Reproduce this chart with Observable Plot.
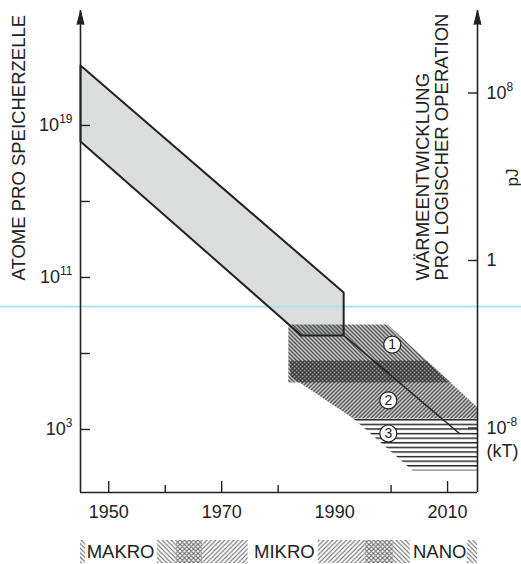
<!DOCTYPE html>
<html><head><meta charset="utf-8">
<script src="https://cdn.jsdelivr.net/npm/d3@7"></script>
<script src="https://cdn.jsdelivr.net/npm/@observablehq/plot@0.6"></script>
<style>
html,body{margin:0;padding:0;background:#fff;}
#chart svg{display:block;}
</style></head><body><div id="chart"></div>
<script>
// ---------- data ----------
const xTickYears = [1950, 1970, 1990, 2010];
const xMajorTicks = [1950, 1970, 2010];
const xMinorTicks = [1960, 1980, 2000];
const leftTickExps = [3, 7, 11, 15, 19];
const leftLabelExps = [3, 11, 19];
const rightTickExps = [8, 0, -8];
const rightTickLabels = ["10^8", "1", "10^-8"];
const kTLabel = "(kT)";
// grey band: year, log10(atoms per cell)
const bandYears = [1945, 1991.6, 1991.6, 1984.1, 1945, 1945];
const bandExps  = [22.16, 10.21, 7.95, 7.95, 18.16, 22.16];
// trend line continuing from the band
const trendYears = [1991.6, 2012.1];
const trendExps  = [7.95, 2.79];
// hatched regions
const region1Years = [1981.8, 1999.4, 2010.5, 1981.8];
const region1Exps  = [8.53, 8.53, 5.47, 5.47];
const region2Years = [1982.0, 2006.3, 2015.3, 2015.3, 1993.3, 1982.2];
const region2Exps  = [6.63, 6.63, 4.16, 3.58, 3.58, 5.79];
const region3Years = [1993.3, 2015.3, 2015.3, 2003.8];
const region3Exps  = [3.58, 3.58, 0.84, 0.84];
const regionLabels = ["1", "2", "3"];
const regionLabelYears = [2000.2, 1999.5, 1999.5];
const regionLabelExps  = [7.47, 4.53, 2.79];
// era strip
const eraNames = ["MAKRO", "MIKRO", "NANO"];
const eraCenters = [1952.1, 1981.1, 2008.6];
const eraLabelFrom = [1945.9, 1974.7, 2003.4];
const eraLabelTo   = [1958.6, 1987.1, 2013.5];
const eraHatchFrom = [1945, 1962.0, 1966.6, 1995.5, 2000.4];
const eraHatchTo   = [1962.0, 1966.6, 1995.5, 2000.4, 2015.3];
const eraHatchKind = ["back", "cross", "fwd", "cross", "back"];
// texts
const leftTitle = "ATOME PRO SPEICHERZELLE";
const rightTitle1 = "WÄRMEENTWICKLUNG";
const rightTitle2 = "PRO LOGISCHER OPERATION";
const rightUnit = "pJ";
// scan artefact line
const scanLineExp = 9.47;
const scanLineYears = [1930.8, 2023.1];

// ---------- scales ----------
const X_DOMAIN = [1945, 2015.3];
const Y_EXP_DOMAIN = [-0.316, 25.05];
const p = (e) => 10 ** e;
const rightToLeft = (e) => 11.893 + 1.1019 * e;
const poly = (years, exps) => years.map((yr, i) => ({year: yr, v: p(exps[i])}));

const font = "'Liberation Sans', Arial, Helvetica, sans-serif";
const ink = "#222";
const TICK_FS = 18;

const regionLabelData = regionLabels.map((t, i) => ({t, year: regionLabelYears[i], v: p(regionLabelExps[i])}));

const main = Plot.plot({
  width: 521, height: 540,
  marginTop: 10, marginBottom: 48, marginLeft: 80, marginRight: 44,
  style: {fontFamily: font, fontSize: TICK_FS + "px", color: ink, background: "#fff", overflow: "visible"},
  x: {domain: X_DOMAIN},
  y: {type: "log", domain: Y_EXP_DOMAIN.map(p)},
  marks: [
    Plot.line(poly(bandYears, bandExps), {x: "year", y: "v", fill: "#dadddc", stroke: "none"}),
    Plot.ruleY([p(scanLineExp)], {x1: scanLineYears[0], x2: scanLineYears[1], stroke: "#aee3ea", strokeWidth: 2}),
    Plot.line(poly(region1Years, region1Exps), {x: "year", y: "v", fill: "url(#hBack)", stroke: "none"}),
    Plot.line(poly(region2Years, region2Exps), {x: "year", y: "v", fill: "url(#hFwd)", stroke: "none"}),
    Plot.line(poly(region3Years, region3Exps), {x: "year", y: "v", fill: "url(#hHor)", stroke: "none"}),
    Plot.line(poly(bandYears, bandExps), {x: "year", y: "v", stroke: ink, strokeWidth: 2, strokeLinejoin: "miter"}),
    Plot.line(poly(trendYears, trendExps), {x: "year", y: "v", stroke: ink, strokeWidth: 1.5}),
    Plot.dot(regionLabelData, {x: "year", y: "v", r: 8.5, fill: "white", stroke: ink, strokeWidth: 1.2}),
    Plot.text(regionLabelData, {x: "year", y: "v", text: "t", fontSize: 14, fill: ink}),
    // axes lines
    Plot.ruleX(X_DOMAIN, {stroke: ink, strokeWidth: 1.6}),
    Plot.ruleY([p(Y_EXP_DOMAIN[0])], {stroke: ink, strokeWidth: 1.6}),
    Plot.vector(X_DOMAIN, {x: d => d, y: p(Y_EXP_DOMAIN[1]), anchor: "end", length: 14, shape: "spike", r: 3.5, fill: ink, stroke: ink, strokeWidth: 1}),
    // x axis
    Plot.axisX(xMajorTicks, {tickSize: -11, tickFormat: () => "", label: null, strokeWidth: 1.4}),
    Plot.axisX(xMinorTicks, {tickSize: -7, tickFormat: () => "", label: null, strokeWidth: 1.4}),
    Plot.axisX(xTickYears, {tickSize: 0, tickPadding: 13, tickFormat: "d", label: null, fontSize: TICK_FS}),
    // left y axis
    Plot.axisY(leftTickExps.map(p), {anchor: "left", tickSize: -10, tickPadding: 18, label: null, fontSize: TICK_FS, strokeWidth: 1.4,
      tickFormat: v => { const e = Math.round(Math.log10(v)); return leftLabelExps.includes(e) ? `10^${e}` : ""; }}),
    // right y axis
    Plot.axisY(rightTickExps.map(e => p(rightToLeft(e))), {anchor: "right", tickSize: -10, tickPadding: 19, label: null, fontSize: TICK_FS, strokeWidth: 1.4,
      tickFormat: v => { const e = Math.round((Math.log10(v) - 11.893) / 1.1019); return rightTickLabels[rightTickExps.indexOf(e)]; }}),
    Plot.text([kTLabel], {x: X_DOMAIN[1], y: p(rightToLeft(-8)), dx: 9, dy: 23, textAnchor: "start", fontSize: TICK_FS, fill: ink}),
    // titles
    Plot.text([leftTitle], {frameAnchor: "left", dx: -61, dy: 29, rotate: -90, textAnchor: "start", lineAnchor: "middle", fontSize: 18.5, fill: ink}),
    Plot.text([rightTitle1], {frameAnchor: "right", dx: -54, dy: 29, rotate: -90, textAnchor: "start", lineAnchor: "middle", fontSize: 18.5, fill: ink}),
    Plot.text([rightTitle2], {frameAnchor: "right", dx: -35, dy: 29, rotate: -90, textAnchor: "start", lineAnchor: "middle", fontSize: 18.5, fill: ink}),
    Plot.text([rightUnit], {frameAnchor: "right", dx: 35, dy: -74, rotate: -90, textAnchor: "middle", lineAnchor: "middle", fontSize: 17, fill: ink})
  ]
});

const eraHatch = eraHatchKind.map((k, i) => ({kind: k, from: eraHatchFrom[i], to: eraHatchTo[i]}));
const eraLabels = eraNames.map((n, i) => ({name: n, c: eraCenters[i], from: eraLabelFrom[i], to: eraLabelTo[i]}));

const strip = Plot.plot({
  width: 521, height: 24,
  marginTop: 0, marginBottom: 1, marginLeft: 80, marginRight: 44,
  style: {fontFamily: font, fontSize: "18px", color: ink, background: "#fff", overflow: "visible"},
  x: {domain: X_DOMAIN, axis: null},
  marks: [
    Plot.rect(eraHatch, {filter: d => d.kind === "back", x1: "from", x2: "to", fill: "url(#sBack)"}),
    Plot.rect(eraHatch, {filter: d => d.kind === "fwd", x1: "from", x2: "to", fill: "url(#sFwd)"}),
    Plot.rect(eraHatch, {filter: d => d.kind === "cross", x1: "from", x2: "to", fill: "url(#sCross)"}),
    Plot.rect(eraLabels, {x1: "from", x2: "to", fill: "white"}),
    Plot.text(eraLabels, {x: "c", text: "name", frameAnchor: "middle", fontSize: 18.5, fill: ink})
  ]
});

const defs = `
<defs>
<pattern id="hBack" patternUnits="userSpaceOnUse" width="4" height="4">
  <path d="M-1,-1 L5,5 M-1,3 L1,5 M3,-1 L5,1" stroke="#1c1c1c" stroke-width="1.35"/>
</pattern>
<pattern id="hFwd" patternUnits="userSpaceOnUse" width="4" height="4">
  <path d="M-1,5 L5,-1 M-1,1 L1,-1 M3,5 L5,3" stroke="#1c1c1c" stroke-width="1.35"/>
</pattern>
<pattern id="hHor" patternUnits="userSpaceOnUse" width="4" height="4.6">
  <path d="M0,0.7 H4" stroke="#1c1c1c" stroke-width="1.4"/>
</pattern>
<pattern id="sBack" patternUnits="userSpaceOnUse" width="4.5" height="4.5">
  <path d="M-1,-1 L5.5,5.5 M-1,3.5 L1,5.5 M3.5,-1 L5.5,1" stroke="#666" stroke-width="1.1"/>
</pattern>
<pattern id="sFwd" patternUnits="userSpaceOnUse" width="4.5" height="4.5">
  <path d="M-1,5.5 L5.5,-1 M-1,1 L1,-1 M3.5,5.5 L5.5,3.5" stroke="#666" stroke-width="1.1"/>
</pattern>
<pattern id="sCross" patternUnits="userSpaceOnUse" width="4.5" height="4.5">
  <path d="M-1,-1 L5.5,5.5 M-1,3.5 L1,5.5 M3.5,-1 L5.5,1 M-1,5.5 L5.5,-1 M-1,1 L1,-1 M3.5,5.5 L5.5,3.5" stroke="#666" stroke-width="1.1"/>
</pattern>
</defs>`;
main.insertAdjacentHTML("afterbegin", defs);

// superscripts for power-of-ten labels
main.querySelectorAll("text").forEach(t => {
  const m = /^10\^(-?\d+)$/.exec(t.textContent);
  if (!m) return;
  t.textContent = "10";
  const ts = document.createElementNS("http://www.w3.org/2000/svg", "tspan");
  ts.setAttribute("dy", "-8");
  ts.setAttribute("font-size", "12");
  ts.textContent = m[1];
  t.appendChild(ts);
});

const host = document.getElementById("chart");
host.appendChild(main);
host.appendChild(strip);
</script>
</body></html>
